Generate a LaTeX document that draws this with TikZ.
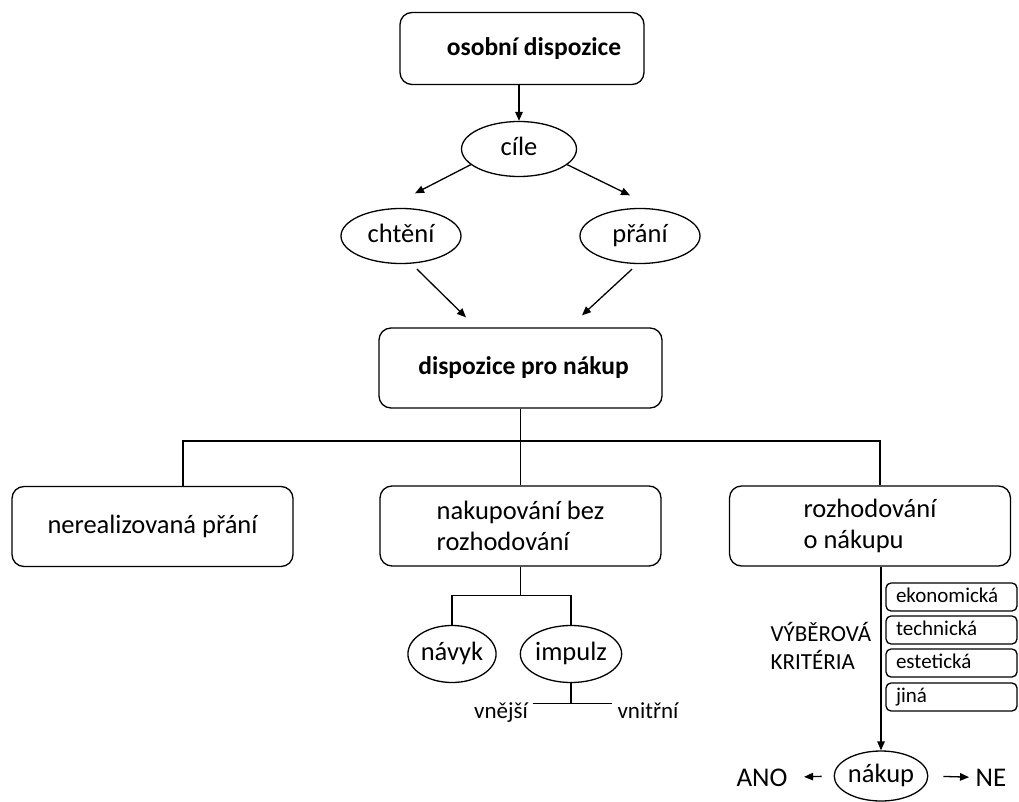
\documentclass[tikz,border=0pt]{standalone}
\usepackage{fontspec}
\setmainfont{Carlito}
\usetikzlibrary{arrows.meta,shapes.geometric}
\begin{document}
\begin{tikzpicture}[x=1pt,y=-1pt,
  line width=1.3pt,
  every node/.style={inner sep=0pt},
  boldbox/.style={draw, rounded corners=12pt, minimum width=#1, minimum height=72pt,
    font=\fontsize{25.5}{30}\selectfont\bfseries},
  textbox/.style={draw, rounded corners=12pt, minimum width=281pt, minimum height=80pt,
    align=left, font=\fontsize{26.5}{31.5}\selectfont},
  oval/.style={draw, ellipse, minimum width=#1, minimum height=55pt,
    text height=13pt, text depth=0pt, font=\fontsize{26.5}{30}\selectfont},
  critbox/.style={draw, rounded corners=5pt, minimum height=28pt,
    text width=111pt, inner xsep=10pt, align=left,
    text height=14pt, text depth=4pt, font=\fontsize{21}{25}\selectfont},
  small/.style={font=\fontsize{23}{28}\selectfont},
  big/.style={font=\fontsize{27}{30}\selectfont},
  arr/.style={-{Triangle[length=9pt,width=7.5pt]}}
]
\useasboundingbox (0,0) rectangle (1019,802);

% upper part: motives
\node[boldbox=244pt] (osob) at (522,48.5) {\hspace*{24pt}osobní dispozice};
\node[oval=115pt] (cile) at (519,149) {cíle};
\node[oval=120pt] (chteni) at (401,236) {chtění};
\node[oval=120pt] (prani) at (640,236) {přání};
\node[boldbox=283pt, minimum height=80pt] (disp) at (520.5,368) {\hspace*{6pt}dispozice pro nákup};

\draw[arr] (cile.north |- osob.south) -- (cile.north);
\draw[arr] (cile.198) -- ([shift={(14,-14.5)}]chteni.north);
\draw[arr] (cile.-18) -- ([shift={(-10,-12.5)}]prani.north);
\draw[arr] ([shift={(16,5)}]chteni.south) -- ([shift={(-54.5,-10)}]disp.north);
\draw[arr] ([shift={(-8,5)}]prani.south) -- ([shift={(61.5,-12)}]disp.north);

% three kinds of buying
\node[textbox, align=center] (ner) at (152.5,526.5) {nerealizovaná přání};
\node[textbox] (nak) at (520.5,526) {nakupování bez\\rozhodování};
\node[textbox] (roz) at (870,526) {rozhodování\\o nákupu};

\coordinate (hub) at (520.5,441);
\draw (disp.south) -- (hub);
\draw ([xshift=30.5pt]ner.north) |- (hub) -| ([xshift=10pt]roz.north);
\draw (hub) -- (nak.north);

% buying without decision
\node[oval=82pt, minimum height=57pt] (navyk) at (452,654) {návyk};
\node[oval=82pt, minimum height=57pt] (impulz) at (571,654) {impulz};
\draw (nak.south) -- ++(0,29) coordinate (h2);
\draw (navyk.north) |- (h2) -| (impulz.north);

\node[small, anchor=base] (vnejsi) at (501,718) {vnější};
\node[small, anchor=base] (vnitrni) at (648,718) {vnitřní};
\draw (impulz.south) -- ++(0,20) coordinate (h3);
\draw ([xshift=4pt]vnejsi.east |- h3) -- ([xshift=-5pt]vnitrni.west |- h3);

% buying decision with criteria
\node[critbox] (ekon) at (951.5,597) {ekonomická};
\node[critbox] (tech) at (951.5,630) {technická};
\node[critbox] (este) at (951.5,663) {estetická};
\node[critbox] (jina) at (951.5,697) {jiná};
\node[small, align=left, anchor=west] (krit) at (770,646) {VÝBĚROVÁ\\KRITÉRIA};

\node[oval=74pt, minimum height=50pt] (nakup) at (881,776) {nákup};
\draw[arr] (nakup.north |- roz.south) -- (nakup.north);

\node[big, anchor=base] (ano) at (762,786) {ANO};
\node[big, anchor=base] (ne) at (991,786) {NE};
\draw[arr, shorten <=12pt, shorten >=16pt] (nakup.west) -- (ano.east);
\draw[arr, shorten <=15pt, shorten >=6pt] (nakup.east) -- (ne.west);
\end{tikzpicture}
\end{document}
